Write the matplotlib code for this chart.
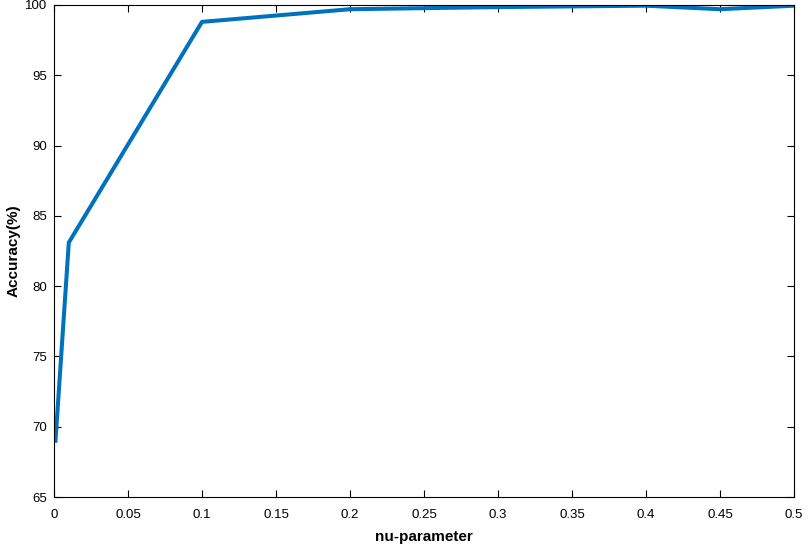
import matplotlib
matplotlib.use('Agg')
import matplotlib.pyplot as plt

# Accuracy vs nu-parameter
nu = [0.001, 0.01, 0.1, 0.2, 0.3, 0.4, 0.45, 0.5]
accuracy = [69.0, 83.1, 98.8, 99.7, 99.85, 99.95, 99.7, 99.95]

xticks = [0, 0.05, 0.1, 0.15, 0.2, 0.25, 0.3, 0.35, 0.4, 0.45, 0.5]
xticklabels = ['0', '0.05', '0.1', '0.15', '0.2', '0.25', '0.3', '0.35', '0.4', '0.45', '0.5']
yticks = [65, 70, 75, 80, 85, 90, 95, 100]

plt.rcParams['font.family'] = ['Liberation Sans', 'DejaVu Sans']

fig = plt.figure(figsize=(8.1, 5.44), dpi=100)
ax = fig.add_axes([54 / 810, 47 / 544, 740 / 810, 492 / 544])

ax.plot(nu, accuracy, color='#0072BD', linewidth=2.9)

ax.set_xlim(0, 0.5)
ax.set_ylim(65, 100)
ax.set_xticks(xticks)
ax.set_xticklabels(xticklabels)
ax.set_yticks(yticks)
ax.tick_params(direction='in', length=5, width=0.8, labelsize=9.5,
               top=True, right=True, colors='black')
ax.tick_params(axis='x', pad=9)
ax.tick_params(axis='y', pad=5)
for s in ax.spines.values():
    s.set_linewidth(0.8)

ax.set_xlabel('nu-parameter', fontsize=11, fontweight='bold', labelpad=6)
ax.set_ylabel('Accuracy(%)', fontsize=11, fontweight='bold')
ax.yaxis.set_label_coords(-33 / 740, 0.5)

fig.savefig('out.png', dpi=100)
